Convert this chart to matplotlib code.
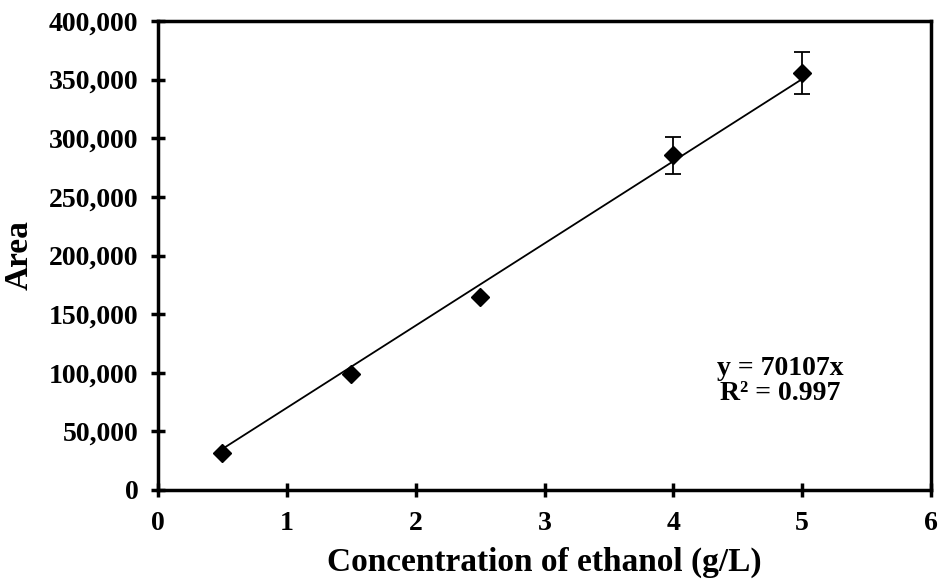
import matplotlib
matplotlib.use("Agg")
import matplotlib.pyplot as plt
from matplotlib.ticker import FuncFormatter

# data
conc = [0.5, 1.5, 2.5, 4.0, 5.0]
area = [31500, 98900, 164600, 285700, 355600]
err = [0, 0, 0, 15800, 17900]
slope = 70107
fit_x = [0.5, 5.0]

plt.rcParams['font.family'] = ['Liberation Serif', 'DejaVu Serif']
plt.rcParams['font.weight'] = 'bold'

fig = plt.figure(figsize=(9.43, 5.84), dpi=100)
ax = fig.add_axes([0.1676, 0.161, 0.8197, 0.803])

ax.plot(fit_x, [slope * v for v in fit_x], color='black', lw=1.3, zorder=2)
ax.errorbar(conc, area, yerr=err, fmt='D', color='black', ms=9,
            ecolor='black', elinewidth=1.3, capsize=6, capthick=1.3, zorder=3)

ax.set_xlim(0, 6)
ax.set_ylim(0, 400000)
ax.set_xticks(range(0, 7))
ax.set_yticks(range(0, 400001, 50000))
ax.yaxis.set_major_formatter(FuncFormatter(lambda v, p: f"{int(v):,}"))
for s in ax.spines.values():
    s.set_linewidth(2.5)
ax.tick_params(direction='inout', length=10, width=2.5, labelsize=20)
ax.tick_params(axis='x', pad=10)
ax.tick_params(axis='y', pad=9)

ax.set_xlabel('Concentration of ethanol (g/L)', fontsize=24, fontweight='bold', labelpad=8)
ax.set_ylabel('Area', fontsize=24, fontweight='bold', labelpad=10)

ax.text(4.83, 104000, 'y = 70107x', ha='center', va='center', fontsize=20, fontweight='bold')
ax.text(4.83, 82600, 'R² = 0.997', ha='center', va='center', fontsize=20, fontweight='bold')

fig.savefig('out.png', dpi=100)
